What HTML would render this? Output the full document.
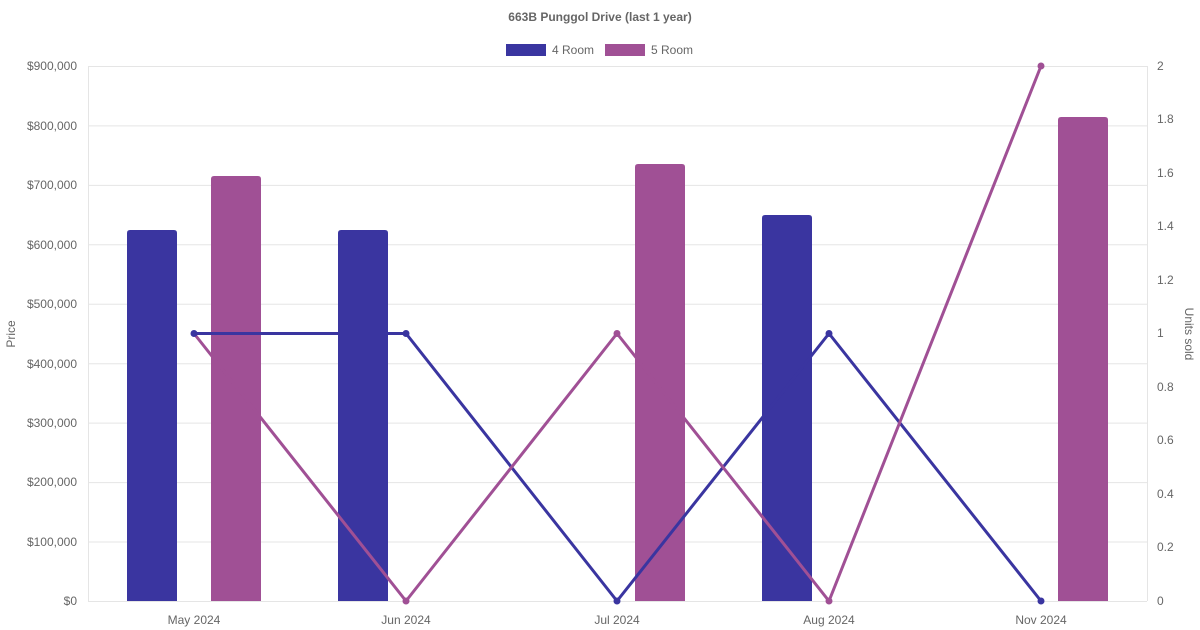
<!DOCTYPE html>
<html><head><meta charset="utf-8"><style>
html,body{margin:0;padding:0;background:#fff;}
svg{display:block;font-family:"Liberation Sans",Arial,sans-serif;}
</style></head><body>
<svg width="1200" height="630" viewBox="0 0 1200 630" xmlns="http://www.w3.org/2000/svg">
<text x="600" y="21" text-anchor="middle" font-size="12" font-weight="bold" fill="#666">663B Punggol Drive (last 1 year)</text>
<rect x="506" y="44" width="40" height="12" fill="#3a35a0"/>
<text x="552" y="54" font-size="12" fill="#666">4 Room</text>
<rect x="605" y="44" width="40" height="12" fill="#a05095"/>
<text x="651" y="54" font-size="12" fill="#666">5 Room</text>
<g stroke="#e5e5e5" stroke-width="1">
<line x1="88" y1="66.5" x2="1147" y2="66.5"/>
<line x1="88" y1="125.9" x2="1147" y2="125.9"/>
<line x1="88" y1="185.4" x2="1147" y2="185.4"/>
<line x1="88" y1="244.8" x2="1147" y2="244.8"/>
<line x1="88" y1="304.2" x2="1147" y2="304.2"/>
<line x1="88" y1="363.7" x2="1147" y2="363.7"/>
<line x1="88" y1="423.1" x2="1147" y2="423.1"/>
<line x1="88" y1="482.6" x2="1147" y2="482.6"/>
<line x1="88" y1="542" x2="1147" y2="542"/>
<line x1="88" y1="601.5" x2="1147" y2="601.5"/>
<line x1="88.5" y1="66" x2="88.5" y2="601"/>
<line x1="1147.5" y1="66" x2="1147.5" y2="601"/>
</g>
<g font-size="12" fill="#666" text-anchor="end">
<text x="77" y="70">$900,000</text>
<text x="77" y="130">$800,000</text>
<text x="77" y="189">$700,000</text>
<text x="77" y="249">$600,000</text>
<text x="77" y="308">$500,000</text>
<text x="77" y="368">$400,000</text>
<text x="77" y="427">$300,000</text>
<text x="77" y="486">$200,000</text>
<text x="77" y="546">$100,000</text>
<text x="77" y="605">$0</text>
</g>
<g font-size="12" fill="#666" text-anchor="start">
<text x="1157" y="70">2</text>
<text x="1157" y="123">1.8</text>
<text x="1157" y="177">1.6</text>
<text x="1157" y="230">1.4</text>
<text x="1157" y="284">1.2</text>
<text x="1157" y="337">1</text>
<text x="1157" y="391">0.8</text>
<text x="1157" y="444">0.6</text>
<text x="1157" y="498">0.4</text>
<text x="1157" y="551">0.2</text>
<text x="1157" y="605">0</text>
</g>
<g font-size="12" fill="#666" text-anchor="middle">
<text x="194" y="624">May 2024</text>
<text x="406" y="624">Jun 2024</text>
<text x="617" y="624">Jul 2024</text>
<text x="829" y="624">Aug 2024</text>
<text x="1041" y="624">Nov 2024</text>
</g>
<text transform="translate(15,334) rotate(-90)" text-anchor="middle" font-size="12" fill="#666">Price</text>
<text transform="translate(1185,334) rotate(90)" text-anchor="middle" font-size="12" fill="#666">Units sold</text>
<g fill="#3a35a0">
<path d="M127 601V233q0-3 3-3h44q3 0 3 3V601z"/>
<path d="M338 601V233q0-3 3-3h44q3 0 3 3V601z"/>
<path d="M762 601V218q0-3 3-3h44q3 0 3 3V601z"/>
</g>
<g fill="#a05095">
<path d="M211 601V179q0-3 3-3h44q3 0 3 3V601z"/>
<path d="M635 601V167q0-3 3-3h44q3 0 3 3V601z"/>
<path d="M1058 601V120q0-3 3-3h44q3 0 3 3V601z"/>
</g>
<polyline points="194,333.5 406,333.5 617,601 829,333.5 1041,601" fill="none" stroke="#3a35a0" stroke-width="3"/>
<polyline points="194,333.5 406,601 617,333.5 829,601 1041,66" fill="none" stroke="#a05095" stroke-width="3"/>
<g fill="#3a35a0">
<circle cx="194" cy="333.5" r="3.5"/><circle cx="406" cy="333.5" r="3.5"/><circle cx="617" cy="601" r="3.5"/><circle cx="829" cy="333.5" r="3.5"/><circle cx="1041" cy="601" r="3.5"/>
</g>
<g fill="#a05095">
<circle cx="406" cy="601" r="3.5"/><circle cx="617" cy="333.5" r="3.5"/><circle cx="829" cy="601" r="3.5"/><circle cx="1041" cy="66" r="3.5"/>
</g>
</svg>
</body></html>
